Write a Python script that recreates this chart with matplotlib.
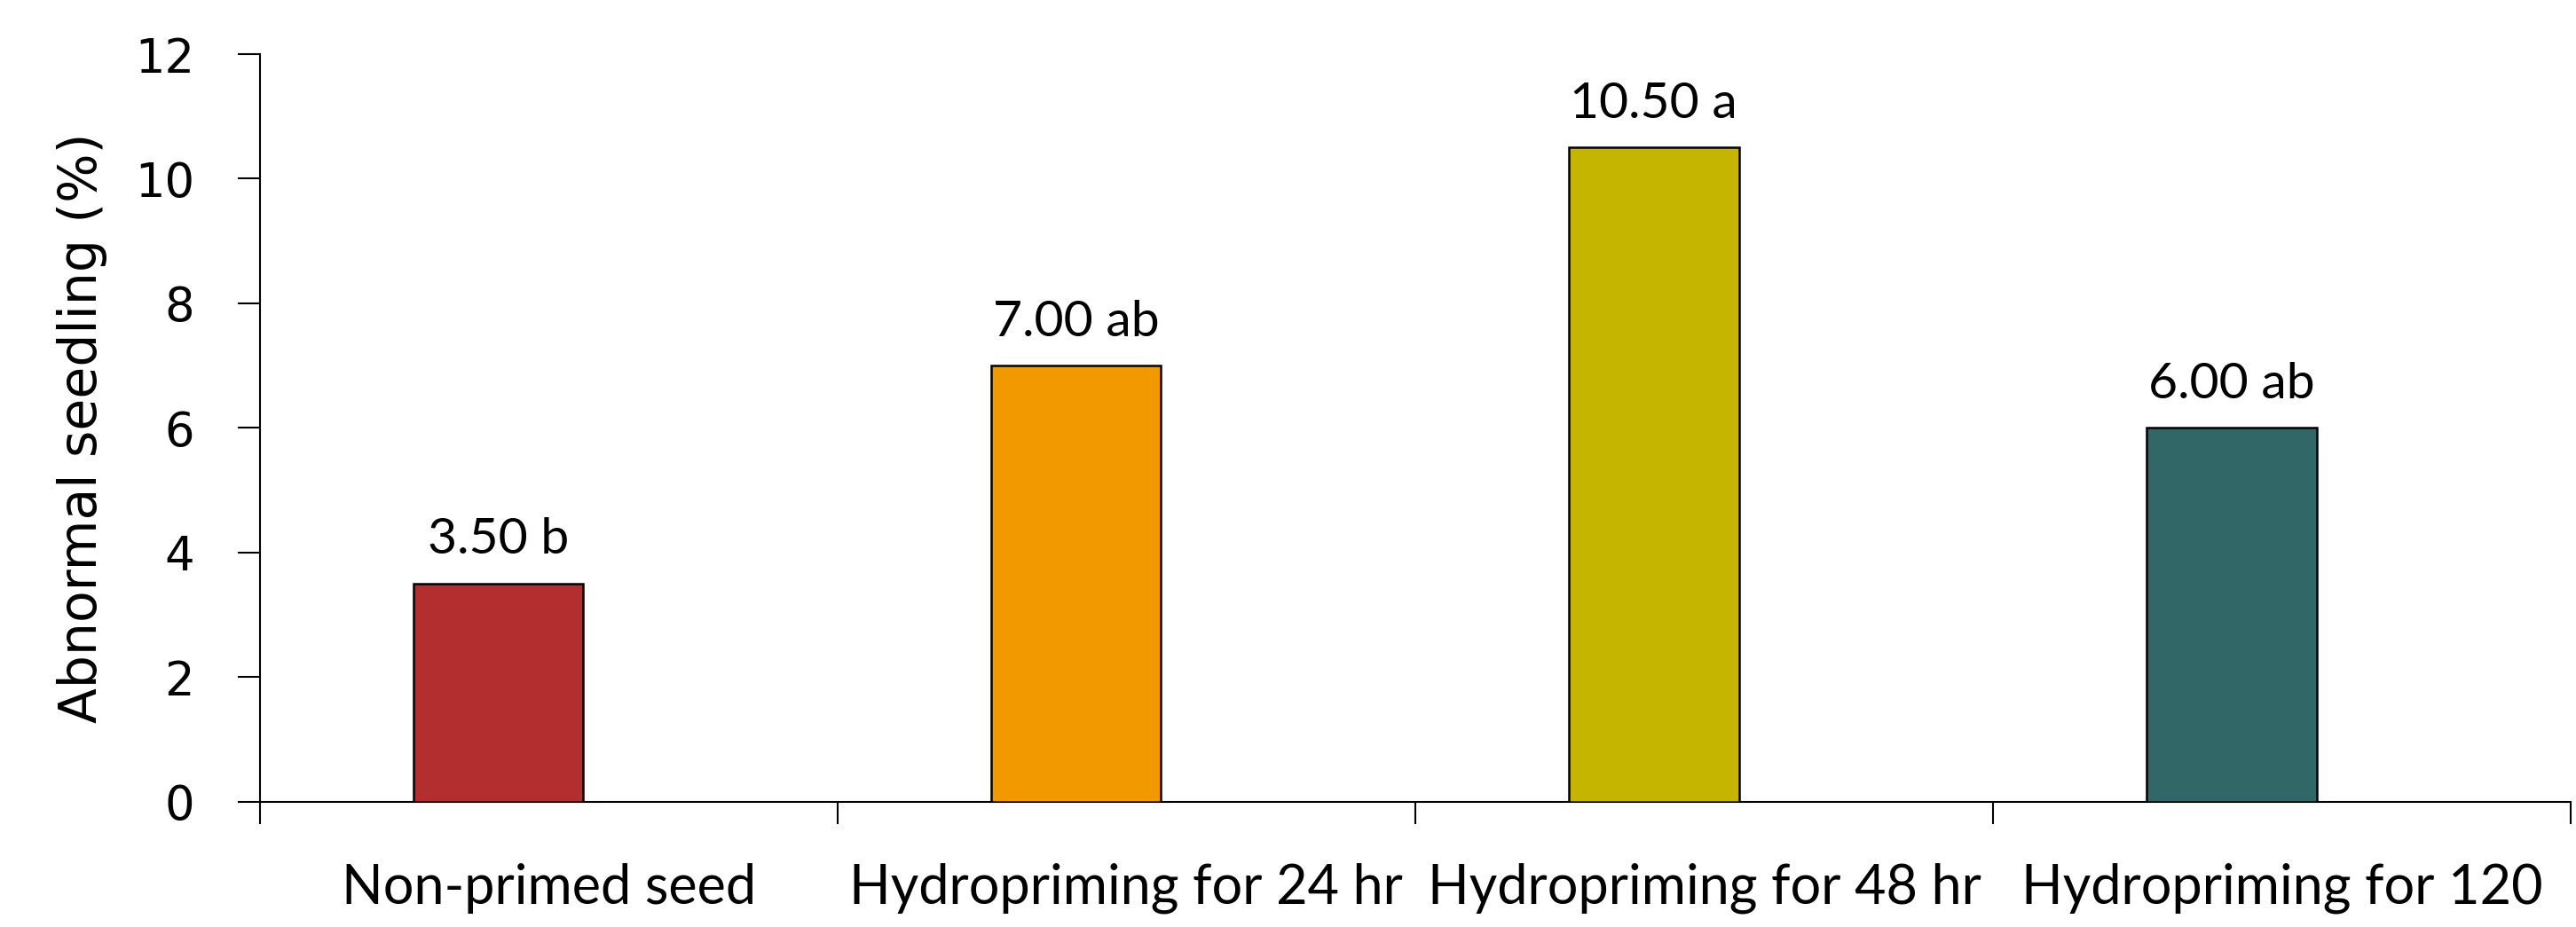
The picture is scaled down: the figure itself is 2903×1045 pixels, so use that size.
import numpy as np
import matplotlib.pyplot as plt

categories = ["Non-primed seed", "Hydropriming for 24 hr",
              "Hydropriming for 48 hr", "Hydropriming for 120"]
values = [3.50, 7.00, 10.50, 6.00]
letters = ["b", "ab", "a", "ab"]
colors = ["#B32E2E", "#F29900", "#C5B500", "#316767"]
y_ticks = [0, 2, 4, 6, 8, 10, 12]

fig = plt.figure(figsize=(29.03, 10.45), dpi=100)
ax = fig.add_axes([0.1008, 0.1354, 0.8972, 0.8062])

x = np.arange(len(categories))
bars = ax.bar(x - 0.087, values, width=0.294, color=colors,
              edgecolor="black", linewidth=1.8, zorder=3)

for xi, v, lt in zip(x, values, letters):
    ax.annotate(f"{v:.2f} {lt}", (xi - 0.087, v), xytext=(0, 24),
                textcoords="offset points", ha="center", va="baseline",
                fontsize=41, family="Lato")

ax.set_xlim(-0.5, 3.5)
ax.set_ylim(0, 12)
ax.set_yticks(y_ticks)
ax.tick_params(axis="y", length=18, width=1.5, pad=35, labelsize=38)
for lab in ax.get_yticklabels():
    lab.set_family("DejaVu Sans")

# category boundaries as major ticks, names on minor ticks
ax.set_xticks(np.arange(-0.5, 4, 1.0))
ax.set_xticklabels([])
ax.set_xticks(x, minor=True)
ax.set_xticklabels(categories, minor=True, fontsize=44, family="Lato")
ax.tick_params(axis="x", which="major", length=18, width=1.5)
ax.tick_params(axis="x", which="minor", length=0, pad=50)

ax.set_ylabel("Abnormal seedling (%)", fontsize=42,
              family=["Liberation Sans Narrow", "DejaVu Sans"], labelpad=22)

for s in ["top", "right"]:
    ax.spines[s].set_visible(False)
for s in ["left", "bottom"]:
    ax.spines[s].set_linewidth(1.5)

fig.savefig("out.png", dpi=100)
